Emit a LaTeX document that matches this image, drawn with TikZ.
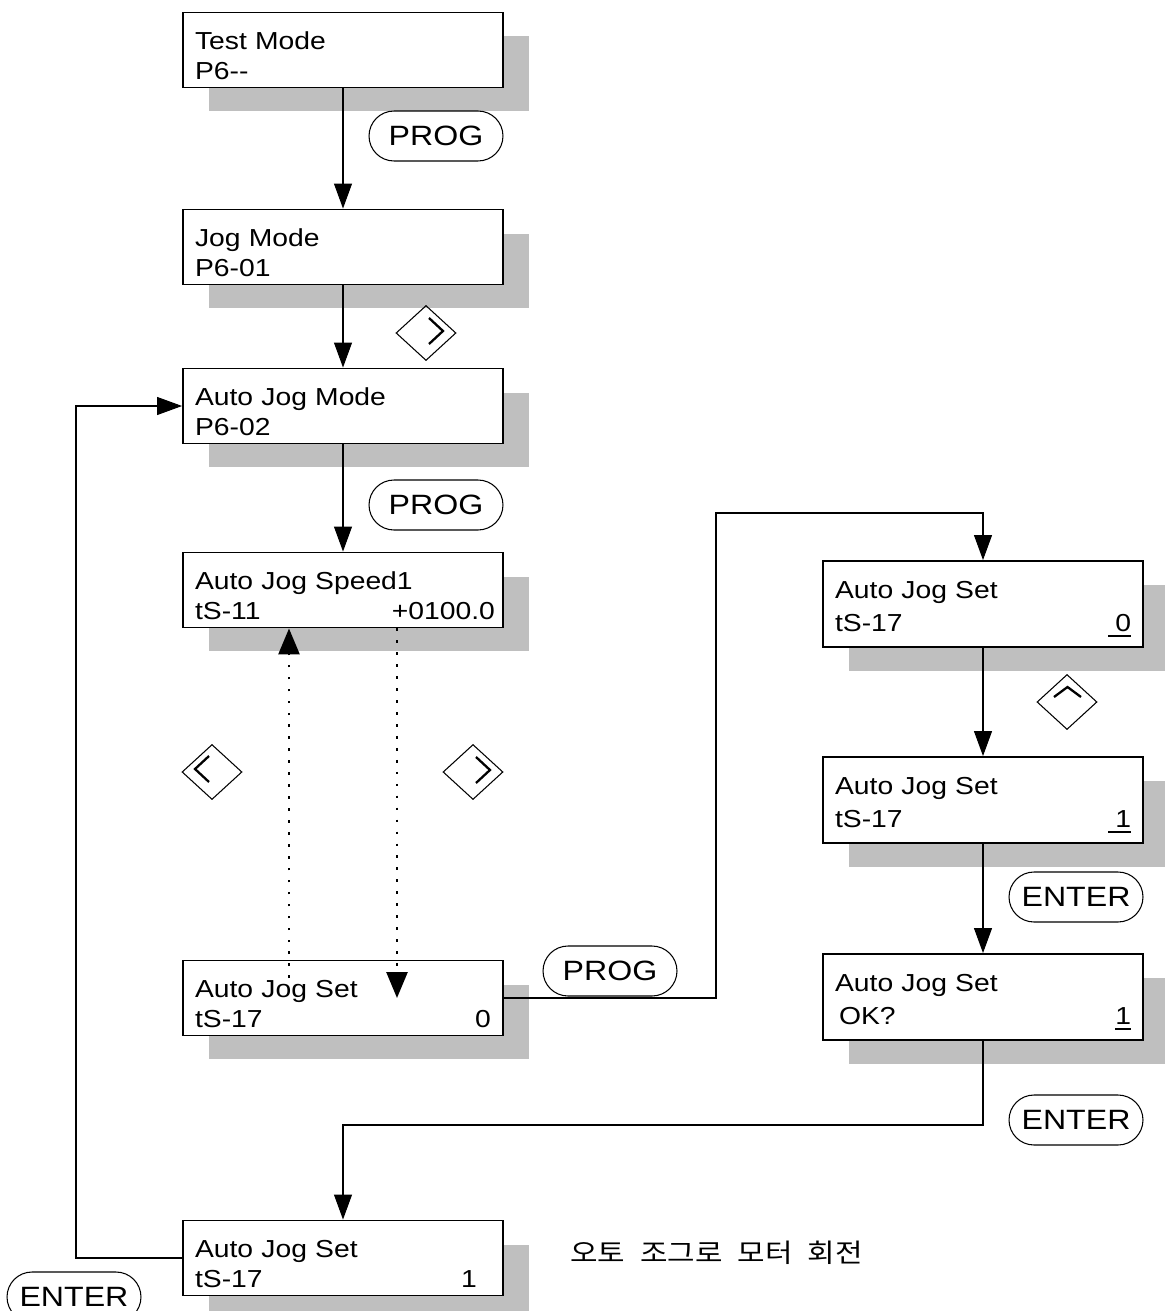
\documentclass[tikz,border=0pt]{standalone}
\usepackage{fontspec}
\setmainfont{Liberation Sans}[FakeStretch=1.15]
\newfontfamily\krfont{Noto Sans CJK KR}[FakeStretch=1.15]
\usetikzlibrary{arrows.meta,positioning,shapes.geometric,shapes.misc,shadows}

% one display row: left part, right part flush right
\newcommand\lcdrow[2]{\hbox to \hsize{#1\hfil#2}}
% blinking cursor digit
\newcommand\curs[1]{\setbox0\hbox{#1}\rlap{\rule[-0.11cm]{\wd0}{0.04cm}}\box0}

\begin{document}
\begin{tikzpicture}[
    x=0.02cm, y=-0.02cm,
    node font=\fontsize{14pt}{17.1pt}\selectfont,
    lcd/.style={rectangle, draw, line width=1.1pt, fill=white, minimum width=6.4cm, minimum height=1.5cm,
        text width=5.92cm, text height=0.52cm, text depth=0.54cm, inner ysep=0pt,
        drop shadow={shadow xshift=0.52cm, shadow yshift=-0.48cm, opacity=1, fill=black!25}},
    lcd tall/.style={lcd, minimum height=1.72cm, text depth=0.76cm, font=\fontsize{14pt}{18.8pt}\selectfont},
    button/.style={rounded rectangle, draw, line width=0.6pt, minimum width=2.68cm, minimum height=1cm,
        inner sep=0pt, font=\fontsize{15.9pt}{18pt}\selectfont},
    key/.style={diamond, draw, line width=0.6pt, minimum width=1.2cm, minimum height=1.1cm, inner sep=0pt},
    key right/.style={key, path picture={\draw[line width=1.3pt] ([shift={(0.06cm,0.3cm)}]path picture bounding box.center)
        -- ++(0.28cm,-0.26cm) -- ++(-0.28cm,-0.26cm);}},
    key left/.style={key, path picture={\draw[line width=1.3pt] ([shift={(-0.06cm,0.32cm)}]path picture bounding box.center)
        -- ++(-0.28cm,-0.26cm) -- ++(0.28cm,-0.26cm);}},
    key up/.style={key, path picture={\draw[line width=1.3pt] ([shift={(-0.26cm,0.1cm)}]path picture bounding box.center)
        -- ++(0.27cm,0.2cm) -- ++(0.27cm,-0.2cm);}},
    flow/.style={-{Triangle[length=0.5cm, width=0.36cm]}, line width=0.6pt},
    dots/.style={-{Triangle[length=0.52cm, width=0.42cm]}, line width=1.5pt, dash pattern=on 1.5pt off 5.3pt},
]
\useasboundingbox (0,0) rectangle (1165,1311);

% Left column
\node[lcd] (test) at (343,50) {Test Mode\\P6-{}-};
\node[lcd] (jog) at (343,247) {Jog Mode\\P6-01};
\node[lcd] (autojog) at (343,406) {Auto Jog Mode\\P6-02};
\node[lcd] (speed) at (343,590) {Auto Jog Speed1\\\lcdrow{tS-11}{+0100.0\kern-0.08cm}};
\node[lcd] (setA) at (343,998) {Auto Jog Set\\\lcdrow{tS-17}{0}};
\node[lcd] (setB) at (343,1258) {Auto Jog Set\\\lcdrow{tS-17}{1\kern0.28cm}};

% Right column
\node[lcd tall] (rset0) at (983,604) {Auto Jog Set\\\lcdrow{tS-17}{\curs{\kern0.14cm 0}}};
\node[lcd tall] (rset1) at (983,800) {Auto Jog Set\\\lcdrow{tS-17}{\curs{\kern0.14cm 1}}};
\node[lcd tall] (rsetok) at (983,997) {Auto Jog Set\\\lcdrow{\kern0.08cm OK?}{\curs{1}}};

% Keys
\node[button] (prog1) at (436,136) {PROG};
\node[key right] (keyR1) at (426,333) {};
\node[button] (prog2) at (436,505) {PROG};
\node[key left] (keyL) at (212,772) {};
\node[key right] (keyR2) at (473,772) {};
\node[button] (prog3) at (610,971) {PROG};
\node[key up] (keyU) at (1067,702) {};
\node[button] (enter1) at (1076,897) {ENTER};
\node[button] (enter2) at (1076,1120) {ENTER};
\node[button] (enter3) at (74,1297) {ENTER};

% Note
\node[anchor=west, inner sep=0pt, font=\krfont\fontsize{14.8pt}{16pt}\selectfont] (note) at (570,1253)
    {오토\hspace{0.3cm}조그로\hspace{0.3cm}모터\hspace{0.3cm}회전};

% Connectors
\draw[flow] (test) -- (jog);
\draw[flow] (jog) -- (autojog);
\draw[flow] (autojog) -- (speed);
\coordinate (turnA) at (716,513);
\draw[flow] (setA.east) -| (turnA) -| (rset0.north);
\draw[flow] (rset0) -- (rset1);
\draw[flow] (rset1) -- (rsetok);
\coordinate (turnB) at (343,1125);
\draw[flow] (rsetok.south) |- (turnB) -- (setB.north);
\coordinate (loopC) at (76,800);
\draw[flow] (setB.west) -| (loopC) |- (autojog.west);

% Digit shift
\coordinate (dotL) at (289,978);
\coordinate (dotR) at (397,998);
\draw[dots] (dotL) -- (dotL |- speed.south);
\draw[dots] (dotR |- speed.south) -- (dotR);

\end{tikzpicture}
\end{document}
